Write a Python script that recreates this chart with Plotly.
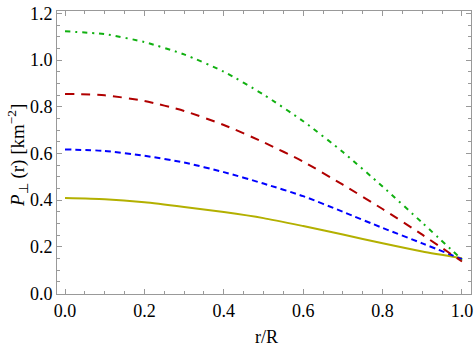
import plotly.graph_objects as go

# r/R sample positions
r_over_R = [0.0, 0.1, 0.2, 0.3, 0.4, 0.5, 0.6, 0.7, 0.8, 0.9, 1.0]

# P_perp(r) [km^-2]
p_olive = [0.409, 0.404, 0.391, 0.371, 0.349, 0.323, 0.289, 0.253, 0.215, 0.180, 0.151]
p_blue = [0.617, 0.611, 0.590, 0.561, 0.520, 0.471, 0.417, 0.350, 0.281, 0.215, 0.147]
p_red = [0.855, 0.849, 0.825, 0.782, 0.722, 0.648, 0.565, 0.466, 0.362, 0.252, 0.137]
p_green = [1.123, 1.111, 1.077, 1.024, 0.950, 0.852, 0.738, 0.606, 0.458, 0.303, 0.145]

x_ticks = [0.0, 0.2, 0.4, 0.6, 0.8, 1.0]
x_tick_text = ["0.0", "0.2", "0.4", "0.6", "0.8", "1.0"]
y_ticks = [0.0, 0.2, 0.4, 0.6, 0.8, 1.0, 1.2]
y_tick_text = ["0.0", "0.2", "0.4", "0.6", "0.8", "1.0", "1.2"]

FONT = "Liberation Serif"

series = [
    (p_olive, "#b3b000", "solid"),
    (p_blue, "#0000ff", "6px,4px"),
    (p_red, "#b00000", "9px,7px"),
    (p_green, "#10b010", "5px,5px,2px,5px"),
]

fig = go.Figure()
for ys, col, dash in series:
    fig.add_trace(go.Scatter(
        x=r_over_R, y=ys, mode="lines",
        line=dict(color=col, width=2, dash=dash, shape="spline", smoothing=0.6),
        showlegend=False, hoverinfo="skip",
    ))

axis_common = dict(
    showgrid=False, zeroline=False, showline=True, linecolor="#999999", linewidth=1,
    mirror="allticks", ticks="inside", ticklen=5, tickcolor="#999999", tickwidth=1,
    tickfont=dict(family=FONT, size=18, color="#000000"),
    automargin=False, ticklabeloverflow="allow",
)

fig.update_xaxes(
    range=[-0.0202, 1.0227], tickvals=x_ticks, ticktext=x_tick_text,
    minor=dict(ticks="inside", ticklen=3, dtick=0.05, tick0=0, tickcolor="#999999", showgrid=False),
    **axis_common,
)
fig.update_yaxes(
    range=[-0.002, 1.21], tickvals=y_ticks, ticktext=y_tick_text,
    minor=dict(ticks="inside", ticklen=3, dtick=0.05, tick0=0, tickcolor="#999999", showgrid=False),
    **axis_common,
)

fig.update_layout(
    width=474, height=354,
    margin=dict(l=57, r=3, t=11, b=60),
    paper_bgcolor="white", plot_bgcolor="white",
    font=dict(family=FONT),
    annotations=[
        dict(text="r/R", xref="paper", yref="paper", x=0.507, y=-0.152,
             showarrow=False, xanchor="center", yanchor="middle",
             font=dict(family=FONT, size=18, color="#000000")),
        dict(text="<i>P</i><sub>⊥</sub> (r) [km<sup>−2</sup>]", xref="paper", yref="paper",
             x=-0.097, y=0.491, textangle=-90,
             showarrow=False, xanchor="center", yanchor="middle",
             font=dict(family=FONT, size=19, color="#000000")),
    ],
)

# remove the browser's default 8px body margin so the figure fills the window
fig.write_html("out.html", config={"displayModeBar": False},
               post_script="document.body.style.margin='0px';")
